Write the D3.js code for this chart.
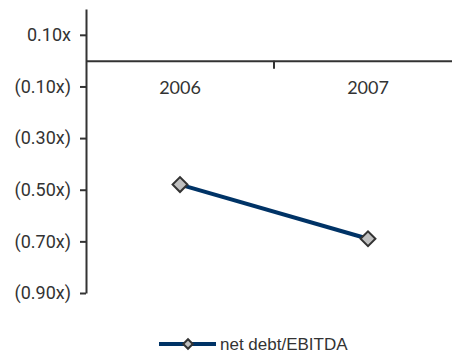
<!DOCTYPE html>
<html>
<head>
<meta charset="utf-8">
<script src="https://cdn.jsdelivr.net/npm/d3@7"></script>
<style>
  body { margin: 0; background: #fff; }
</style>
</head>
<body>
<div id="chart"></div>
<script>
// chart values
let years = ["2006", "2007"]
let netDebtEbitda = [-0.48, -0.69]
let yTicks = [0.10, -0.10, -0.30, -0.50, -0.70, -0.90]
let seriesName = "net debt/EBITDA"

let width = 452, height = 358

let svg = d3.select("#chart")
  .append("svg")
  .attr("width", width)
  .attr("height", height)

// y: value -> pixel
let y = d3.scaleLinear()
  .domain([-0.9, 0.2])
  .range([293, 9])

// x: category bands, the plot runs past the right edge
let x = d3.scaleBand()
  .domain(years)
  .range([86, 462])

let fmt = v => v < 0 ? "(" + d3.format(".2f")(-v) + "x)" : d3.format(".2f")(v) + "x"

// y axis
let yAxis = svg.append("g")
  .attr("transform", "translate(86,0)")
  .call(d3.axisLeft(y).tickValues(yTicks).tickFormat(fmt).tickSize(6).tickSizeOuter(0))
yAxis.select(".domain").attr("stroke", "#333").attr("stroke-width", 2)
yAxis.selectAll(".tick line").attr("stroke", "#333").attr("stroke-width", 2)
yAxis.selectAll(".tick text")
  .attr("x", -15)
  .style("font-family", "Roboto, sans-serif")
  .style("font-size", "18px")
  .attr("fill", "#333")

// x axis sits on zero
let xAxis = svg.append("g")
  .attr("transform", "translate(0," + y(0) + ")")
  .call(d3.axisBottom(x).tickSize(0).tickSizeOuter(0))
xAxis.select(".domain").attr("stroke", "#333").attr("stroke-width", 2)
xAxis.selectAll(".tick text")
  .attr("dy", "1.2em")
  .attr("y", 12)
  .style("font-family", "Lato, sans-serif")
  .style("font-size", "18px")
  .attr("fill", "#333")

// tick between the categories
svg.selectAll(".sep")
  .data(years.slice(1))
  .enter()
  .append("line")
  .attr("x1", d => x(d))
  .attr("x2", d => x(d))
  .attr("y1", y(0))
  .attr("y2", y(0) + 8)
  .attr("stroke", "#333")
  .attr("stroke-width", 2)

let pts = years.map((d, i) => ({year: d, value: netDebtEbitda[i]}))

let line = d3.line()
  .x(d => x(d.year) + x.bandwidth() / 2)
  .y(d => y(d.value))

svg.append("path")
  .datum(pts)
  .attr("d", line)
  .attr("fill", "none")
  .attr("stroke", "#003366")
  .attr("stroke-width", 4)

let diamond = d3.symbol().type(d3.symbolSquare).size(110)

svg.selectAll(".pt")
  .data(pts)
  .enter()
  .append("path")
  .attr("d", diamond)
  .attr("transform", d => "translate(" + (x(d.year) + x.bandwidth() / 2) + "," + y(d.value) + ") rotate(45)")
  .attr("fill", "#c0c0c0")
  .attr("stroke", "#333")
  .attr("stroke-width", 2)

// legend
let lg = svg.append("g").attr("transform", "translate(159,344)")
lg.append("line")
  .attr("x1", 0).attr("x2", 57)
  .attr("stroke", "#003366")
  .attr("stroke-width", 4)
lg.append("path")
  .attr("d", d3.symbol().type(d3.symbolSquare).size(45))
  .attr("transform", "translate(29,0) rotate(45)")
  .attr("fill", "#c0c0c0")
  .attr("stroke", "#333")
  .attr("stroke-width", 2)
lg.append("text")
  .attr("x", 61)
  .attr("dy", "0.36em")
  .text(seriesName)
  .style("font-family", "'Liberation Sans', Arial, sans-serif")
  .style("font-size", "17px")
  .attr("fill", "#333")
</script>
</body>
</html>
